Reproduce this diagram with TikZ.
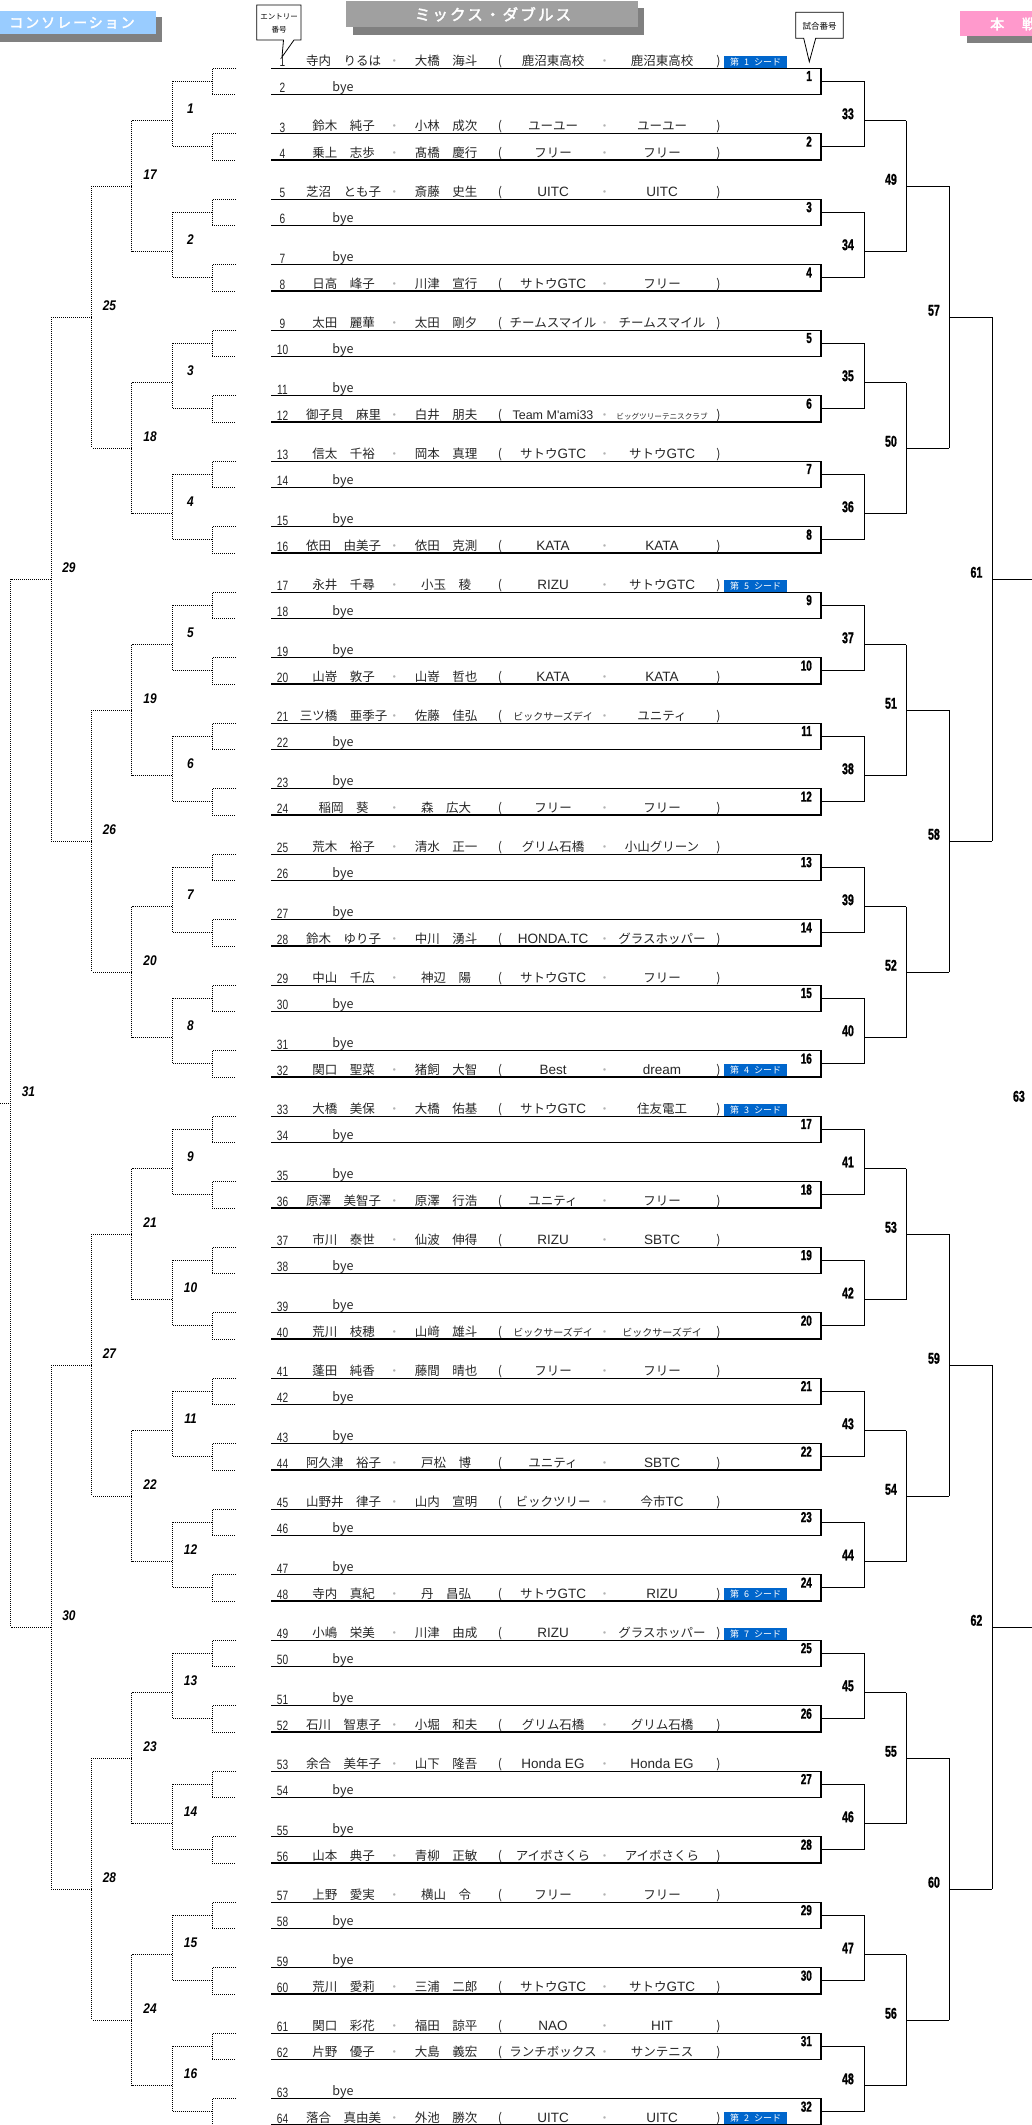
\documentclass[tikz,border=0pt]{standalone}
\usepackage{fontspec}
\setmainfont{Noto Sans CJK JP}
\newfontfamily\jpfont{Noto Sans CJK JP}
\newfontfamily\latinfont{Liberation Sans}
\newfontfamily\titlefont{Noto Sans CJK JP}[FakeBold=2.5,LetterSpace=14]
\newfontfamily\numfont{Liberation Sans}[FakeStretch=0.75]
\newfontfamily\matchfont{Liberation Sans}[FakeStretch=0.68,FakeBold=1.2]
\newfontfamily\consfont{Liberation Sans}[FakeStretch=0.85]
\definecolor{shadowgray}{HTML}{808080}
\definecolor{titlegray}{HTML}{A0A0A0}
\definecolor{consblue}{HTML}{99CCFF}
\definecolor{mainpink}{HTML}{FF99CC}
\definecolor{seedblue}{HTML}{0066CC}
\definecolor{txtcol}{HTML}{262626}
\pgfmathdeclarefunction{rowy}{1}{\pgfmathparse{68.3+13.1*(#1)}}
\newcommand\smallclub{\fontsize{10}{10}\selectfont}
\newcommand\tinyclub{\fontsize{7.6}{7.6}\selectfont}
\newcommand\latn[1]{{\latinfont\fontsize{13.5}{13.5}\selectfont #1}}
\tikzset{
  ln/.style={line width=1.1pt},
  dl/.style={line width=1pt,dash pattern=on 1pt off 1pt},
  jtxt/.style={font=\jpfont\fontsize{12.5}{12.5}\selectfont,text=txtcol,inner sep=0,anchor=base},
  septxt/.style={font=\jpfont\fontsize{12}{12}\selectfont,text=black!30,inner sep=0,anchor=base},
  numtxt/.style={font=\numfont\fontsize{13.5}{13.5}\selectfont,text=txtcol,inner sep=0,anchor=base},
  m1txt/.style={font=\matchfont\bfseries\fontsize{14.5}{14.5}\selectfont,inner sep=0,anchor=north east},
  mtxt/.style={font=\matchfont\bfseries\fontsize{15.5}{15.5}\selectfont,inner sep=0,anchor=south east},
  ctxt/.style={font=\consfont\bfseries\itshape\fontsize{14}{14}\selectfont,inner sep=0},
  seedst/.style={fill=seedblue,text=white,inner sep=0,minimum width=63pt,minimum height=12pt,
     font=\jpfont\fontsize{9}{9}\selectfont},
  calltxt/.style={font=\jpfont\fontsize{7.5}{7.5}\selectfont,inner sep=0},
  callout/.style={fill=white,draw=black,line width=0.8pt,line join=miter},
  titletxt/.style={text=white,inner sep=0}
}
\newcommand\entryP[5]{%
  \pgfmathsetmacro\eY{68.3+13.1*(5*floor((#1-1)/2)+2*mod(#1-1,2))}%
  \node[numtxt] (num#1) at (282.5,\eY-1.8) {#1};
  \node[jtxt] (pa#1) at (343.5,\eY-3) {#2};
  \node[septxt] (sa#1) at (394.3,\eY-3) {・};
  \node[jtxt] (pb#1) at (446,\eY-3) {#3};
  \node[jtxt] (lp#1) at (500,\eY-3) {(};
  \node[jtxt] (ca#1) at (553,\eY-3) {#4};
  \node[septxt] (sb#1) at (604.5,\eY-3) {・};
  \node[jtxt] (cb#1) at (662,\eY-3) {#5};
  \node[jtxt] (rp#1) at (718.6,\eY-3) {)};
}
\newcommand\entryB[1]{%
  \pgfmathsetmacro\eY{68.3+13.1*(5*floor((#1-1)/2)+2*mod(#1-1,2))}%
  \node[numtxt] (num#1) at (282.5,\eY-1.8) {#1};
  \node[jtxt] (bye#1) at (343,\eY-3) {bye};
}
\newcommand\seedmark[2]{%
  \pgfmathsetmacro\eY{68.3+13.1*(5*floor((#1-1)/2)+2*mod(#1-1,2))}%
  \node[seedst] (seed#1) at (755.5,\eY-6.6) {第\hspace{5pt}#2\hspace{5pt}シード};
}
\begin{document}
\begin{tikzpicture}[x=1pt,y=-1pt]
\useasboundingbox (0,0) rectangle (1032,2125);
\clip (0,0) rectangle (1032,2125);

% ---- headers
\fill[shadowgray] (0,17.5) rectangle (162,41.7);
\node[fill=consblue,inner sep=0,minimum width=156pt,minimum height=23.6pt,anchor=north west] (consbox) at (0,10.7) {};
\node[titletxt,font=\titlefont\fontsize{14}{14}\selectfont] (constxt) at (72,22.8) {コンソレーション};

\fill[shadowgray] (353.3,8) rectangle (644,35);
\node[fill=titlegray,inner sep=0,minimum width=291.7pt,minimum height=26.3pt,anchor=north west] (titlebox) at (346,1) {};
\node[titletxt,font=\titlefont\fontsize{15.5}{15.5}\selectfont] (titletext) at (493,14.3) {ミックス・ダブルス};

\fill[shadowgray] (967,18) rectangle (1050,42.7);
\node[fill=mainpink,inner sep=0,minimum width=90pt,minimum height=24.7pt,anchor=north west] (pinkbox) at (960,11) {};
\node[titletxt,font=\titlefont\fontsize{14}{14}\selectfont,anchor=west] (pinktxt) at (990,24) {本　戦};

% ---- callouts
\draw[callout] (256.7,5) -- (301,5) -- (301,40) -- (294,40) -- (282,57) -- (283.5,40) -- (256.7,40) -- cycle;
\node[calltxt] (call1a) at (279,16.5) {エントリー};
\node[calltxt] (call1b) at (279,29.3) {番号};
\draw[callout] (795.7,12.3) -- (843.3,12.3) -- (843.3,38.3) -- (815.7,38.3) -- (809.3,61.7) -- (803.7,38.3) -- (795.7,38.3) -- cycle;
\node[calltxt,font=\jpfont\fontsize{8.5}{8.5}\selectfont] (call2) at (819.5,26.5) {試合番号};

% ---- entry lines and first round
\foreach \k in {0,...,31}{
  \draw[ln] (271,{rowy(5*\k)}) -- (821,{rowy(5*\k)}) -- (821,{rowy(5*\k+2)}) -- (271,{rowy(5*\k+2)});
  \draw[ln] (821,{rowy(5*\k+1)}) -- (864.3,{rowy(5*\k+1)});
  \pgfmathtruncatemacro\mn{\k+1}
  \node[m1txt] (m\mn) at (812,{rowy(5*\k)+2.5}) {\mn};
  \draw[dl] (236,{rowy(5*\k)}) -- (212.3,{rowy(5*\k)}) -- (212.3,{rowy(5*\k+2)}) -- (236,{rowy(5*\k+2)});
  \draw[dl] (212.3,{rowy(5*\k+1)}) -- (172.3,{rowy(5*\k+1)});
}
% round 2
\foreach \j in {0,...,15}{
  \draw[ln] (864.3,{rowy(10*\j+1)}) -- (864.3,{rowy(10*\j+6)});
  \draw[ln] (864.3,{rowy(10*\j+4)}) -- (906.3,{rowy(10*\j+4)});
  \pgfmathtruncatemacro\mn{\j+33}
  \node[mtxt] (m\mn) at (854,{rowy(10*\j+4)-1.2}) {\mn};
  \draw[dl] (172.3,{rowy(10*\j+1)}) -- (172.3,{rowy(10*\j+6)});
  \draw[dl] (172.3,{rowy(10*\j+4)}) -- (131.7,{rowy(10*\j+4)});
  \pgfmathtruncatemacro\cn{\j+1}
  \node[ctxt] (c\cn) at (190.5,{rowy(10*\j+4)-12}) {\cn};
}
% round 3
\foreach \j in {0,...,7}{
  \draw[ln] (906.3,{rowy(20*\j+4)}) -- (906.3,{rowy(20*\j+14)});
  \draw[ln] (906.3,{rowy(20*\j+9)}) -- (949.3,{rowy(20*\j+9)});
  \pgfmathtruncatemacro\mn{\j+49}
  \node[mtxt] (m\mn) at (897,{rowy(20*\j+9)-1.2}) {\mn};
  \draw[dl] (131.7,{rowy(20*\j+4)}) -- (131.7,{rowy(20*\j+14)});
  \draw[dl] (131.7,{rowy(20*\j+9)}) -- (91.7,{rowy(20*\j+9)});
  \pgfmathtruncatemacro\cn{\j+17}
  \node[ctxt] (c\cn) at (150,{rowy(20*\j+9)-12}) {\cn};
}
% round 4
\foreach \j in {0,...,3}{
  \draw[ln] (949.3,{rowy(40*\j+9)}) -- (949.3,{rowy(40*\j+29)});
  \draw[ln] (949.3,{rowy(40*\j+19)}) -- (992.3,{rowy(40*\j+19)});
  \pgfmathtruncatemacro\mn{\j+57}
  \node[mtxt] (m\mn) at (940,{rowy(40*\j+19)-1.2}) {\mn};
  \draw[dl] (91.7,{rowy(40*\j+9)}) -- (91.7,{rowy(40*\j+29)});
  \draw[dl] (91.7,{rowy(40*\j+19)}) -- (51,{rowy(40*\j+19)});
  \pgfmathtruncatemacro\cn{\j+25}
  \node[ctxt] (c\cn) at (109.5,{rowy(40*\j+19)-12}) {\cn};
}
% round 5
\foreach \j in {0,...,1}{
  \draw[ln] (992.3,{rowy(80*\j+19)}) -- (992.3,{rowy(80*\j+59)});
  \draw[ln] (992.3,{rowy(80*\j+39)}) -- (1040,{rowy(80*\j+39)});
  \pgfmathtruncatemacro\mn{\j+61}
  \node[mtxt] (m\mn) at (982.5,{rowy(80*\j+39)-1.2}) {\mn};
  \draw[dl] (51,{rowy(80*\j+19)}) -- (51,{rowy(80*\j+59)});
  \draw[dl] (51,{rowy(80*\j+39)}) -- (10.7,{rowy(80*\j+39)});
  \pgfmathtruncatemacro\cn{\j+29}
  \node[ctxt] (c\cn) at (69,{rowy(80*\j+39)-12}) {\cn};
}
% round 6
\node[mtxt] (m63) at (1025,{rowy(79)-1.2}) {63};
\draw[dl] (10.7,{rowy(39)}) -- (10.7,{rowy(119)});
\draw[dl] (10.7,{rowy(79)}) -- (-2,{rowy(79)});
\node[ctxt] (c31) at (28.5,{rowy(79)-12}) {31};

% ---- entries
\entryP{1}{寺内　りるは}{大橋　海斗}{鹿沼東高校}{鹿沼東高校}\seedmark{1}{1}
\entryB{2}
\entryP{3}{鈴木　純子}{小林　成次}{ユーユー}{ユーユー}
\entryP{4}{乗上　志歩}{髙橋　慶行}{フリー}{フリー}
\entryP{5}{芝沼　とも子}{斎藤　史生}{\latn{UITC}}{\latn{UITC}}
\entryB{6}
\entryB{7}
\entryP{8}{日高　峰子}{川津　宣行}{サトウ\latn{GTC}}{フリー}
\entryP{9}{太田　麗華}{太田　剛夕}{チームスマイル}{チームスマイル}
\entryB{10}
\entryB{11}
\entryP{12}{御子貝　麻里}{白井　朋夫}{{\latinfont Team M'ami33}}{\tinyclub ビッグツリーテニスクラブ}
\entryP{13}{信太　千裕}{岡本　真理}{サトウ\latn{GTC}}{サトウ\latn{GTC}}
\entryB{14}
\entryB{15}
\entryP{16}{依田　由美子}{依田　克測}{\latn{KATA}}{\latn{KATA}}
\entryP{17}{永井　千尋}{小玉　稜}{\latn{RIZU}}{サトウ\latn{GTC}}\seedmark{17}{5}
\entryB{18}
\entryB{19}
\entryP{20}{山嵜　敦子}{山嵜　哲也}{\latn{KATA}}{\latn{KATA}}
\entryP{21}{三ツ橋　亜季子}{佐藤　佳弘}{\smallclub ビックサーズデイ}{ユニティ}
\entryB{22}
\entryB{23}
\entryP{24}{稲岡　葵}{森　広大}{フリー}{フリー}
\entryP{25}{荒木　裕子}{清水　正一}{グリム石橋}{小山グリーン}
\entryB{26}
\entryB{27}
\entryP{28}{鈴木　ゆり子}{中川　湧斗}{\latn{HONDA.TC}}{グラスホッパー}
\entryP{29}{中山　千広}{神辺　陽}{サトウ\latn{GTC}}{フリー}
\entryB{30}
\entryB{31}
\entryP{32}{関口　聖菜}{猪飼　大智}{\latn{Best}}{\latn{dream}}\seedmark{32}{4}
\entryP{33}{大橋　美保}{大橋　佑基}{サトウ\latn{GTC}}{住友電工}\seedmark{33}{3}
\entryB{34}
\entryB{35}
\entryP{36}{原澤　美智子}{原澤　行浩}{ユニティ}{フリー}
\entryP{37}{市川　泰世}{仙波　伸得}{\latn{RIZU}}{\latn{SBTC}}
\entryB{38}
\entryB{39}
\entryP{40}{荒川　枝穂}{山﨑　雄斗}{\smallclub ビックサーズデイ}{\smallclub ビックサーズデイ}
\entryP{41}{蓬田　純香}{藤間　晴也}{フリー}{フリー}
\entryB{42}
\entryB{43}
\entryP{44}{阿久津　裕子}{戸松　博}{ユニティ}{\latn{SBTC}}
\entryP{45}{山野井　律子}{山内　宣明}{ビックツリー}{今市\latn{TC}}
\entryB{46}
\entryB{47}
\entryP{48}{寺内　真紀}{丹　昌弘}{サトウ\latn{GTC}}{\latn{RIZU}}\seedmark{48}{6}
\entryP{49}{小嶋　栄美}{川津　由成}{\latn{RIZU}}{グラスホッパー}\seedmark{49}{7}
\entryB{50}
\entryB{51}
\entryP{52}{石川　智恵子}{小堀　和夫}{グリム石橋}{グリム石橋}
\entryP{53}{余合　美年子}{山下　隆吾}{\latn{Honda EG}}{\latn{Honda EG}}
\entryB{54}
\entryB{55}
\entryP{56}{山本　典子}{青柳　正敏}{アイボさくら}{アイボさくら}
\entryP{57}{上野　愛実}{横山　令}{フリー}{フリー}
\entryB{58}
\entryB{59}
\entryP{60}{荒川　愛莉}{三浦　二郎}{サトウ\latn{GTC}}{サトウ\latn{GTC}}
\entryP{61}{関口　彩花}{福田　諒平}{\latn{NAO}}{\latn{HIT}}
\entryP{62}{片野　優子}{大島　義宏}{ランチボックス}{サンテニス}
\entryB{63}
\entryP{64}{落合　真由美}{外池　勝次}{\latn{UITC}}{\latn{UITC}}\seedmark{64}{2}
\end{tikzpicture}
\end{document}
